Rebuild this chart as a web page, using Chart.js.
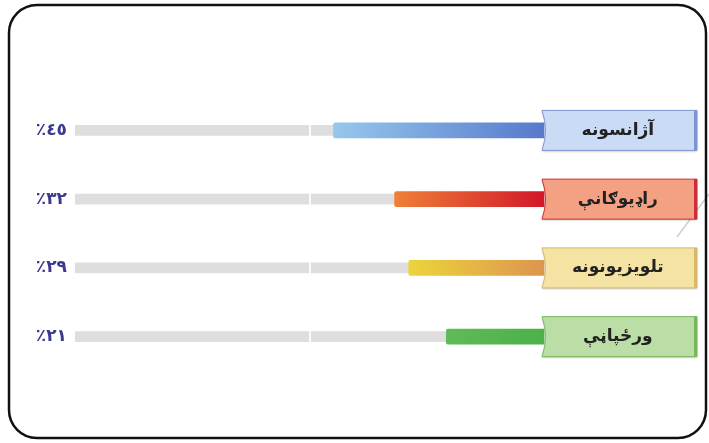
<!DOCTYPE html>
<html>
<head>
<meta charset="utf-8">
<script src="https://cdn.jsdelivr.net/npm/chart.js@4.4.1/dist/chart.umd.min.js"></script>
<style>
html, body { margin: 0; padding: 0; background: #fff; }
#wrap { width: 709px; height: 443px; position: relative; }
</style>
</head>
<body>
<div id="wrap"><canvas id="mediaChart"></canvas></div>
<script>
const categories = ['آژانسونه', 'راډیوګانې', 'تلویزیونونه', 'ورځپاڼې'];
const shares = [45, 32, 29, 21];
const shareLabels = ['٪٤٥', '٪٣٢', '٪٢٩', '٪٢١'];
const trackValues = [100, 100, 100, 100];

// bar gradients, outer end -> label box
const barColors = [
    ['#95c8ec', '#5779cc'],
    ['#ef7f37', '#d2172a'],
    ['#ecd43c', '#dd954e'],
    ['#5fbb57', '#4cb048']
];
// label box fill / edge
const boxColors = [
    ['#c9dbf5', '#7c94d3'],
    ['#f3a182', '#cd2d39'],
    ['#f4e3a2', '#d9b86a'],
    ['#badea5', '#76b95a']
];

function barGradient(context) {
    const chart = context.chart;
    const i = context.dataIndex;
    if (!chart.chartArea) return barColors[i][1];
    const x = chart.scales.x;
    const g = chart.ctx.createLinearGradient(x.getPixelForValue(shares[i]), 0, x.getPixelForValue(0), 0);
    g.addColorStop(0, barColors[i][0]);
    g.addColorStop(1, barColors[i][1]);
    return g;
}

// frame round the picture and the coloured label boxes behind the tick labels
const framePlugin = {
    id: 'frame',
    beforeDraw(chart) {
        const ctx = chart.ctx;
        ctx.save();
        ctx.strokeStyle = '#cfcfcf';
        ctx.lineWidth = 1.5;
        ctx.beginPath();
        ctx.moveTo(677, 237);
        ctx.lineTo(709, 194);
        ctx.stroke();

        ctx.strokeStyle = '#111';
        ctx.lineWidth = 2.5;
        ctx.beginPath();
        ctx.roundRect(9, 5, 697, 433, 28);
        ctx.stroke();

        const y = chart.scales.y;
        const left = chart.chartArea.right - 3;
        const right = chart.chartArea.right + 152;
        categories.forEach((c, i) => {
            const yc = y.getPixelForValue(i);
            const top = yc - 20, bottom = yc + 20;
            ctx.save();
            ctx.shadowColor = 'rgba(0,0,0,0.25)';
            ctx.shadowBlur = 2;
            ctx.shadowOffsetY = 1;
            ctx.beginPath();
            ctx.moveTo(left, top);
            ctx.lineTo(right, top);
            ctx.lineTo(right, bottom);
            ctx.lineTo(left, bottom);
            ctx.quadraticCurveTo(left + 7, yc, left, top);
            ctx.closePath();
            ctx.fillStyle = boxColors[i][0];
            ctx.fill();
            ctx.restore();
            ctx.strokeStyle = boxColors[i][1];
            ctx.lineWidth = 1;
            ctx.stroke();
            ctx.fillStyle = boxColors[i][1];
            ctx.fillRect(right - 3, top, 3, bottom - top);
        });
        ctx.restore();
    }
};

const ctx = document.getElementById('mediaChart').getContext('2d');

const mediaChart = new Chart(ctx, {
    type: 'bar',
    data: {
        labels: categories,
        datasets: [{
            label: 'share',
            data: shares,
            backgroundColor: barGradient,
            barThickness: 15,
            borderRadius: 2,
            grouped: false,
            order: 0
        }, {
            label: 'track',
            data: trackValues,
            backgroundColor: '#dedede',
            barThickness: 10,
            grouped: false,
            order: 1
        }]
    },
    options: {
        indexAxis: 'y',
        responsive: true,
        maintainAspectRatio: false,
        animation: false,
        layout: { padding: { top: 96, bottom: 72, left: 0, right: 0 } },
        plugins: {
            legend: { display: false },
            tooltip: { enabled: false }
        },
        scales: {
            x: {
                reverse: true,
                min: 0,
                max: 100,
                ticks: { display: false, stepSize: 50 },
                border: { display: false },
                grid: {
                    z: 1,
                    drawTicks: false,
                    lineWidth: 2,
                    color: (c) => c.tick && c.tick.value === 50 ? 'rgba(255,255,255,0.85)' : 'rgba(0,0,0,0)'
                },
                afterFit: (s) => { s.width; s.height = 0; }
            },
            y: {
                position: 'right',
                border: { display: false },
                grid: { display: false, drawTicks: false },
                ticks: {
                    crossAlign: 'center',
                    padding: 27,
                    color: '#222',
                    font: { family: 'DejaVu Sans', size: 17, weight: 'bold' }
                },
                afterFit: (s) => { s.width = 164; }
            },
            pct: {
                type: 'category',
                labels: shareLabels,
                position: 'left',
                border: { display: false },
                grid: { display: false, drawTicks: false },
                ticks: {
                    padding: 8,
                    color: '#3b3a8e',
                    font: { family: 'DejaVu Sans', size: 17, weight: 'bold' }
                },
                afterFit: (s) => { s.width = 75; }
            }
        }
    },
    plugins: [framePlugin]
});
</script>
</body>
</html>
